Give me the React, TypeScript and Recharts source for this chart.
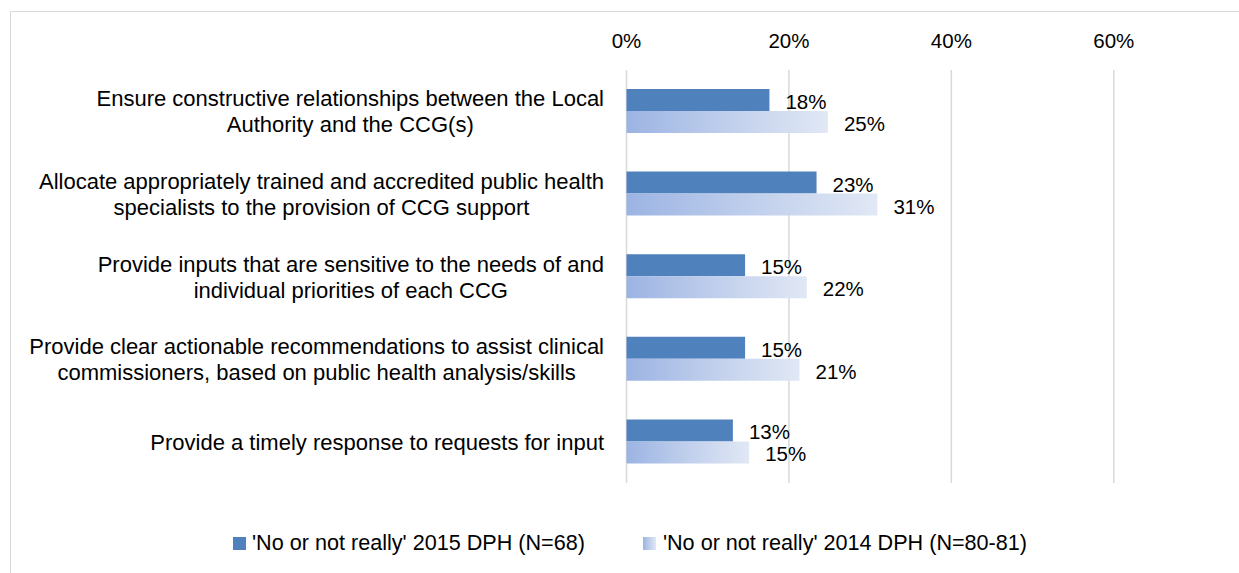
import React from 'react';
import { BarChart, Bar, XAxis, YAxis, CartesianGrid, Legend, LabelList } from 'recharts';

if (typeof document !== 'undefined') {
  document.body.style.margin = '0';
}

const categories = [
  'Ensure constructive relationships between the Local\nAuthority and the CCG(s)',
  'Allocate appropriately trained and accredited public health\nspecialists to the provision of CCG support',
  'Provide inputs that are sensitive to the needs of and\nindividual priorities of each CCG',
  'Provide clear actionable recommendations to assist clinical\ncommissioners, based on public health analysis/skills',
  'Provide a timely response to requests for input',
];
const values2015 = [17.6, 23.4, 14.6, 14.6, 13.1];
const values2014 = [24.8, 30.9, 22.2, 21.3, 15.1];
const seriesNames = ["'No or not really' 2015 DPH (N=68)", "'No or not really' 2014 DPH (N=80-81)"];
const xTicks = [0, 20, 40, 60];
const xMax = 70;

const data = categories.map((c, i) => ({ name: c, v2015: values2015[i], v2014: values2014[i] }));

const FONT = "'Liberation Sans', Arial, sans-serif";
const W = 1231;
const H = 557;

let ctx: CanvasRenderingContext2D | null = null;
function measure(text: string, size: number): number {
  if (!ctx) {
    const c = document.createElement('canvas');
    ctx = c.getContext('2d');
  }
  if (!ctx) return text.length * size * 0.5;
  ctx.font = `${size}px ${FONT}`;
  return ctx.measureText(text).width;
}

const CatTick = (props: any) => {
  const { y, payload } = props;
  const lines = String(payload.value).split('\n');
  const size = 22;
  const maxW = Math.max(...lines.map((l) => measure(l, size)));
  const right = 596;
  const cx = right - maxW / 2;
  const lh = 26;
  return (
    <text x={cx} y={y} textAnchor="middle" fontFamily={FONT} fontSize={size} fill="#000">
      {lines.map((l, i) => (
        <tspan key={i} x={cx} y={y + (i - (lines.length - 1) / 2) * lh + 8}>
          {l}
        </tspan>
      ))}
    </text>
  );
};

const ValTick = (props: any) => {
  const { x, payload } = props;
  return (
    <text x={x} y={40} textAnchor="middle" fontFamily={FONT} fontSize={20.5} fill="#000">
      {`${payload.value}%`}
    </text>
  );
};

const makeLabel = (props: any) => {
  const { x, y, width, height, value } = props;
  return (
    <text x={x + width + 16} y={y + height / 2 + 9} fontFamily={FONT} fontSize={20.5} fill="#000">
      {`${Math.round(value)}%`}
    </text>
  );
};

const LegendContent = () => (
  <div
    style={{
      display: 'flex',
      alignItems: 'center',
      height: 30,
      paddingLeft: 225,
      fontFamily: FONT,
      fontSize: 21.6,
      color: '#000',
      whiteSpace: 'nowrap',
    }}
  >
    <span style={{ display: 'inline-block', width: 13, height: 13, background: '#4f81bd', marginRight: 6 }} />
    <span>{seriesNames[0]}</span>
    <span
      style={{
        display: 'inline-block',
        width: 13,
        height: 13,
        background: 'linear-gradient(to right, #9cb4e3, #e1e8f5)',
        marginLeft: 58,
        marginRight: 7,
      }}
    />
    <span>{seriesNames[1]}</span>
  </div>
);

const gridX = (args: any) => {
  const off = args.offset || {};
  return xTicks.map((t) => off.left + (t / xMax) * off.width);
};

export default function App() {
  return (
    <div style={{ position: 'relative', width: 1239, height: 573, overflow: 'hidden', background: '#fff' }}>
      <div
        style={{
          position: 'absolute',
          left: 10,
          top: 11,
          width: 1400,
          height: 800,
          borderLeft: '1px solid #d9d9d9',
          borderTop: '1px solid #d9d9d9',
          boxSizing: 'border-box',
        }}
      />
      <div style={{ position: 'absolute', left: 8, top: 8 }}>
        <BarChart
          width={W}
          height={H}
          data={data}
          layout="vertical"
          margin={{ top: 0, right: 44, bottom: 52, left: 0 }}
          barGap={0}
          barSize={22}
        >
          <defs>
            <linearGradient id="lightGrad" x1="0" y1="0" x2="1" y2="0">
              <stop offset="0%" stopColor="#9cb4e3" />
              <stop offset="50%" stopColor="#c0cfec" />
              <stop offset="100%" stopColor="#e1e8f5" />
            </linearGradient>
          </defs>
          <CartesianGrid
            horizontal={false}
            vertical={true}
            stroke="#d9d9d9"
            strokeWidth={1.5}
            verticalCoordinatesGenerator={gridX}
          />
          <XAxis
            type="number"
            orientation="top"
            domain={[0, xMax]}
            ticks={xTicks}
            height={62}
            axisLine={false}
            tickLine={false}
            tick={<ValTick />}
            interval={0}
          />
          <YAxis
            type="category"
            dataKey="name"
            width={618.5}
            axisLine={false}
            tickLine={false}
            tick={<CatTick />}
            interval={0}
          />
          <Legend
            verticalAlign="bottom"
            layout="horizontal"
            content={<LegendContent />}
            wrapperStyle={{ left: 0, width: W, bottom: 7 }}
          />
          <Bar dataKey="v2015" name={seriesNames[0]} fill="#4f81bd" isAnimationActive={false}>
            <LabelList dataKey="v2015" content={makeLabel} />
          </Bar>
          <Bar dataKey="v2014" name={seriesNames[1]} fill="url(#lightGrad)" isAnimationActive={false}>
            <LabelList dataKey="v2014" content={makeLabel} />
          </Bar>
        </BarChart>
      </div>
    </div>
  );
}
